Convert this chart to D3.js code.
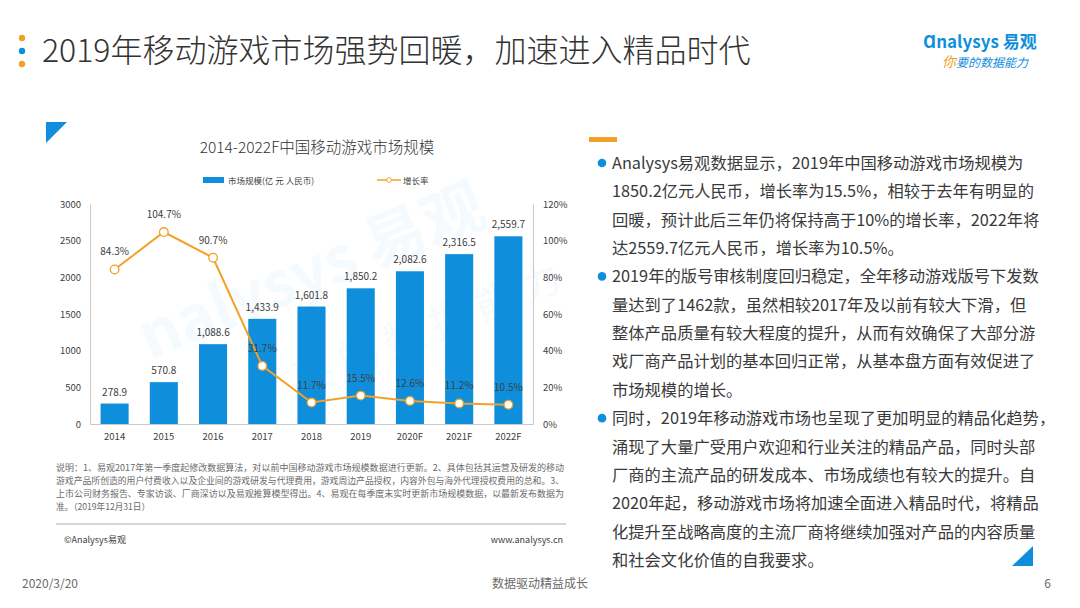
<!DOCTYPE html>
<html>
<head>
<meta charset="utf-8">
<script src="https://cdn.jsdelivr.net/npm/d3@7"></script>
<style>
  body { margin: 0; background: #fff; }
  svg { display: block; font-family: "Noto Sans CJK SC", "Noto Sans", sans-serif; }
</style>
</head>
<body>
<div id="chart-area"></div>
<script>
// data
const years = ["2014", "2015", "2016", "2017", "2018", "2019", "2020F", "2021F", "2022F"]
const marketSize = [278.9, 570.8, 1088.6, 1433.9, 1601.8, 1850.2, 2082.6, 2316.5, 2559.7]
const growthRate = [0.843, 1.047, 0.907, 0.317, 0.117, 0.155, 0.126, 0.112, 0.105]
const leftTicks = [0, 500, 1000, 1500, 2000, 2500, 3000]
const rightTicks = [0, 0.2, 0.4, 0.6, 0.8, 1.0, 1.2]

const noteLines = [
  "说明：1、易观2017年第一季度起修改数据算法，对以前中国移动游戏市场规模数据进行更新。2、具体包括其运营及研发的移动",
  "游戏产品所创造的用户付费收入以及企业间的游戏研发与代理费用，游戏周边产品授权，内容外包与海外代理授权费用的总和。3、",
  "上市公司财务报告、专家访谈、厂商深访以及易观推算模型得出。4、易观在每季度末实时更新市场规模数据，以最新发布数据为",
  "准。（2019年12月31日）"
]

const paragraphs = [
  ["Analysys易观数据显示，2019年中国移动游戏市场规模为",
   "1850.2亿元人民币，增长率为15.5%，相较于去年有明显的",
   "回暖，预计此后三年仍将保持高于10%的增长率，2022年将",
   "达2559.7亿元人民币，增长率为10.5%。"],
  ["2019年的版号审核制度回归稳定，全年移动游戏版号下发数",
   "量达到了1462款，虽然相较2017年及以前有较大下滑，但",
   "整体产品质量有较大程度的提升，从而有效确保了大部分游",
   "戏厂商产品计划的基本回归正常，从基本盘方面有效促进了",
   "市场规模的增长。"],
  ["同时，2019年移动游戏市场也呈现了更加明显的精品化趋势，",
   "涌现了大量广受用户欢迎和行业关注的精品产品，同时头部",
   "厂商的主流产品的研发成本、市场成绩也有较大的提升。自",
   "2020年起，移动游戏市场将加速全面进入精品时代，将精品",
   "化提升至战略高度的主流厂商将继续加强对产品的内容质量",
   "和社会文化价值的自我要求。"]
]

const blue = "#0f8fdb"
const orange = "#f2a127"

const svg = d3.select("#chart-area").append("svg")
  .attr("width", 1080)
  .attr("height", 608)

// header
svg.selectAll(".hdot").data([orange, blue, orange]).enter().append("circle")
  .attr("cx", 22)
  .attr("cy", (d, i) => 38 + i * 13)
  .attr("r", 3.2)
  .attr("fill", d => d)

svg.append("text")
  .attr("x", 42).attr("y", 62)
  .attr("font-size", 32)
  .attr("font-weight", 300)
  .attr("fill", "#333")
  .text("2019年移动游戏市场强势回暖，加速进入精品时代")

// logo
svg.append("text")
  .attr("x", 923).attr("y", 48)
  .attr("font-size", 17).attr("font-weight", "bold")
  .attr("fill", blue)
  .text("Ɑnalysys 易观")
svg.append("text")
  .attr("x", 942).attr("y", 67)
  .attr("font-size", 12).attr("font-style", "italic")
  .attr("fill", blue)
  .call(t => {
    t.append("tspan").attr("fill", orange).attr("font-size", 14).text("你")
    t.append("tspan").text("要的数据能力")
  })

// corner triangles
svg.append("path").attr("d", "M46,122 L67,122 L46,143 Z").attr("fill", blue)
svg.append("path").attr("d", "M1033,546 L1033,566 L1012,566 Z").attr("fill", blue)

// faint watermark
svg.append("text")
  .attr("transform", "translate(150,360) rotate(-22)")
  .attr("font-size", 62).attr("font-weight", "bold")
  .attr("fill", blue).attr("opacity", 0.04)
  .text("nalysys 易观")
svg.append("text")
  .attr("transform", "translate(300,395) rotate(-22)")
  .attr("font-size", 40)
  .attr("fill", blue).attr("opacity", 0.04)
  .text("要 的 数 据 能 力")

// chart title + legend
svg.append("text")
  .attr("x", 317).attr("y", 153)
  .attr("text-anchor", "middle")
  .attr("font-size", 15.5)
  .attr("font-weight", 300)
  .attr("fill", "#333")
  .text("2014-2022F中国移动游戏市场规模")

svg.append("rect").attr("x", 203).attr("y", 177).attr("width", 21).attr("height", 6).attr("fill", blue)
svg.append("text").attr("x", 228).attr("y", 183.5).attr("font-size", 8.5).attr("fill", "#404040")
  .text("市场规模(亿 元 人民币)")
svg.append("line").attr("x1", 377).attr("x2", 401).attr("y1", 180).attr("y2", 180)
  .attr("stroke", orange).attr("stroke-width", 1.5)
svg.append("circle").attr("cx", 389).attr("cy", 180).attr("r", 2.3)
  .attr("fill", "#fff").attr("stroke", orange).attr("stroke-width", 1)
svg.append("text").attr("x", 403).attr("y", 183.5).attr("font-size", 8.5).attr("fill", "#404040")
  .text("增长率")

// scales
const x = d3.scaleBand()
  .domain(years)
  .range([90, 533])
  .paddingInner(0.43)
  .paddingOuter(0.215)

const yL = d3.scaleLinear().domain([0, 3000]).range([424, 204])
const yR = d3.scaleLinear().domain([0, 1.2]).range([424, 204])

const fmt = d3.format(",.1f")
const pct = d3.format(".1%")

// axes
const gL = svg.append("g").attr("transform", "translate(90,0)")
  .call(d3.axisLeft(yL).tickValues(leftTicks).tickFormat(d3.format("d")).tickSize(0).tickPadding(9))
const gR = svg.append("g").attr("transform", "translate(533,0)")
  .call(d3.axisRight(yR).tickValues(rightTicks).tickFormat(d3.format(".0%")).tickSize(0).tickPadding(10))
const gB = svg.append("g").attr("transform", "translate(0,424)")
  .call(d3.axisBottom(x).tickSize(0).tickPadding(9))

;[gL, gR, gB].forEach(g => {
  g.select(".domain").attr("stroke", "#c8c8c8").attr("stroke-width", 1)
  g.selectAll("text").attr("font-size", 9.5).attr("fill", "#404040")
    .attr("font-family", "'Noto Sans CJK SC', sans-serif")
})

// bars
svg.selectAll(".bar").data(marketSize).enter().append("rect")
  .attr("x", (d, i) => x(years[i]))
  .attr("y", d => yL(d))
  .attr("width", x.bandwidth())
  .attr("height", d => yL(0) - yL(d))
  .attr("fill", blue)

svg.selectAll(".barlab").data(marketSize).enter().append("text")
  .attr("x", (d, i) => x(years[i]) + x.bandwidth() / 2)
  .attr("y", d => yL(d) - 8)
  .attr("text-anchor", "middle")
  .attr("font-size", 10)
  .attr("fill", "#404040")
  .text(d => fmt(d))

// growth line
const line = d3.line()
  .x((d, i) => x(years[i]) + x.bandwidth() / 2)
  .y(d => yR(d))

svg.append("path")
  .datum(growthRate)
  .attr("d", line)
  .attr("fill", "none")
  .attr("stroke", orange)
  .attr("stroke-width", 2)

svg.selectAll(".pt").data(growthRate).enter().append("circle")
  .attr("cx", (d, i) => x(years[i]) + x.bandwidth() / 2)
  .attr("cy", d => yR(d))
  .attr("r", 4.3)
  .attr("fill", "#fff")
  .attr("stroke", orange)
  .attr("stroke-width", 1.3)

svg.selectAll(".ptlab").data(growthRate).enter().append("text")
  .attr("x", (d, i) => x(years[i]) + x.bandwidth() / 2)
  .attr("y", d => yR(d) - 14)
  .attr("text-anchor", "middle")
  .attr("font-size", 10)
  .attr("fill", "#404040")
  .text(d => pct(d))

// note
svg.selectAll(".note").data(noteLines).enter().append("text")
  .attr("x", 56)
  .attr("y", (d, i) => 471 + i * 13)
  .attr("font-size", 8.6)
  .attr("fill", "#6a6a6a")
  .attr("textLength", (d, i) => i < 3 ? 508 : null)
  .attr("lengthAdjust", "spacingAndGlyphs")
  .text(d => d)

svg.append("line").attr("x1", 56).attr("x2", 566).attr("y1", 524).attr("y2", 524)
  .attr("stroke", "#d6d6d6").attr("stroke-width", 2)
svg.append("text").attr("x", 64).attr("y", 543).attr("font-size", 9).attr("fill", "#404040")
  .text("©Analysys易观")
svg.append("text").attr("x", 563).attr("y", 543).attr("text-anchor", "end")
  .attr("font-size", 9).attr("fill", "#404040")
  .text("www.analysys.cn")

// right-hand text
svg.append("rect").attr("x", 589).attr("y", 137).attr("width", 28).attr("height", 5).attr("fill", orange)

let lineNo = 0
paragraphs.forEach(p => {
  svg.append("circle").attr("cx", 602).attr("cy", 163 + lineNo * 28.35).attr("r", 4.3).attr("fill", blue)
  p.forEach(s => {
    svg.append("text")
      .attr("x", 612)
      .attr("y", 163 + lineNo * 28.35 + 6)
      .attr("font-size", 16.3)
      .attr("fill", "#3a3a3a")
      .text(s)
    lineNo++
  })
})

// footer
svg.append("text").attr("x", 22).attr("y", 588).attr("font-size", 12).attr("fill", "#6a6a6a").text("2020/3/20")
svg.append("text").attr("x", 540).attr("y", 588).attr("text-anchor", "middle").attr("font-size", 12).attr("fill", "#6a6a6a").text("数据驱动精益成长")
svg.append("text").attr("x", 1051).attr("y", 588).attr("text-anchor", "end").attr("font-size", 12).attr("fill", "#6a6a6a").text("6")
</script>
</body>
</html>
